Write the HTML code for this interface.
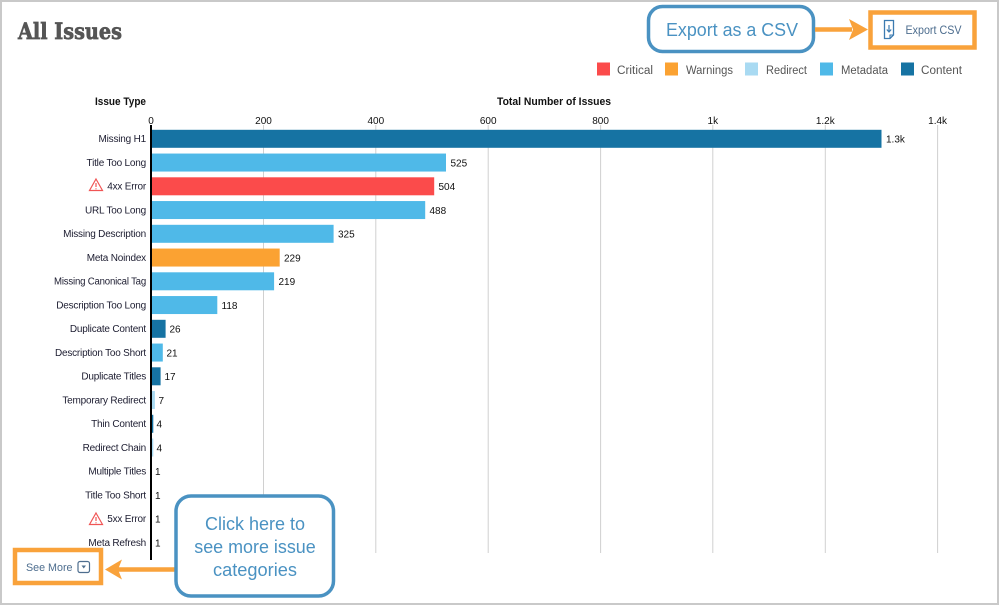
<!DOCTYPE html>
<html><head><meta charset="utf-8">
<style>
html,body{margin:0;padding:0;background:#fff;}
svg{display:block;}
text{font-family:"Liberation Sans",Arial,sans-serif;}
</style></head>
<body>
<svg width="1000" height="606" viewBox="0 0 1000 606" xmlns="http://www.w3.org/2000/svg">
<rect x="0" y="0" width="1000" height="606" fill="#fff"/>
<rect x="1" y="1" width="997" height="603" fill="none" stroke="#c9c9c9" stroke-width="2"/>

<!-- Title -->
<text x="18" y="39" font-size="22" fill="#555" stroke="#555" stroke-width="0.7" textLength="104" lengthAdjust="spacingAndGlyphs" style="font-family:'DejaVu Serif','Liberation Serif',serif;font-weight:bold">All Issues</text>

<!-- Export callout -->
<rect x="648.5" y="6.5" width="165" height="45" rx="14" fill="#fff" stroke="#4a92c2" stroke-width="3.5"/>
<text x="666" y="36" font-size="18" fill="#4a92c2" textLength="132" lengthAdjust="spacingAndGlyphs">Export as a CSV</text>
<line x1="815" y1="29.5" x2="852" y2="29.5" stroke="#f9a23b" stroke-width="4.5"/>
<polygon points="849,19 868,29.5 849,40 853,29.5" fill="#f9a23b"/>
<rect x="870.5" y="12.5" width="104" height="35" fill="#fff" stroke="#f9a23b" stroke-width="4.5"/>
<!-- doc icon -->
<path d="M884.5 20.5 H893.5 V35 L890 38.5 H884.5 Z" fill="none" stroke="#3c7bb0" stroke-width="1.3"/>
<path d="M893.5 35 H890 V38.5" fill="none" stroke="#3c7bb0" stroke-width="1.1"/>
<line x1="889" y1="25" x2="889" y2="31.5" stroke="#3c7bb0" stroke-width="1.2"/>
<polyline points="886.8,29.5 889,32 891.2,29.5" fill="none" stroke="#3c7bb0" stroke-width="1.2"/>
<text x="905.5" y="34" font-size="11.5" fill="#4d6d8e" textLength="56" lengthAdjust="spacingAndGlyphs">Export CSV</text>

<!-- Legend -->
<g font-size="11.5" fill="#555">
<rect x="597" y="62.5" width="13" height="13" fill="#fb4b4b"/>
<text x="617" y="74" textLength="36" lengthAdjust="spacingAndGlyphs">Critical</text>
<rect x="665" y="62.5" width="13" height="13" fill="#fba232"/>
<text x="686" y="74" textLength="47" lengthAdjust="spacingAndGlyphs">Warnings</text>
<rect x="745" y="62.5" width="13" height="13" fill="#a9daf2"/>
<text x="766" y="74" textLength="41" lengthAdjust="spacingAndGlyphs">Redirect</text>
<rect x="820" y="62.5" width="13" height="13" fill="#4fb9e8"/>
<text x="841" y="74" textLength="47" lengthAdjust="spacingAndGlyphs">Metadata</text>
<rect x="901" y="62.5" width="13" height="13" fill="#1673a3"/>
<text x="921" y="74" textLength="41" lengthAdjust="spacingAndGlyphs">Content</text>
</g>

<!-- Axis headers -->
<text x="95" y="105" font-size="11" font-weight="bold" fill="#111" textLength="51" lengthAdjust="spacingAndGlyphs">Issue Type</text>
<text x="497" y="105" font-size="11" font-weight="bold" fill="#111" textLength="114" lengthAdjust="spacingAndGlyphs">Total Number of Issues</text>

<!-- Gridlines -->
<g stroke="#d0d0d0" stroke-width="1">
<line x1="263.5" y1="125" x2="263.5" y2="553"/>
<line x1="375.8" y1="125" x2="375.8" y2="553"/>
<line x1="488.2" y1="125" x2="488.2" y2="553"/>
<line x1="600.6" y1="125" x2="600.6" y2="553"/>
<line x1="712.8" y1="125" x2="712.8" y2="553"/>
<line x1="825.3" y1="125" x2="825.3" y2="553"/>
<line x1="937.6" y1="125" x2="937.6" y2="553"/>
</g>
<g font-size="10" fill="#111" text-anchor="middle">
<text x="151" y="124">0</text>
<text x="263.5" y="124">200</text>
<text x="375.8" y="124">400</text>
<text x="488.2" y="124">600</text>
<text x="600.6" y="124">800</text>
<text x="712.8" y="124">1k</text>
<text x="825.3" y="124">1.2k</text>
<text x="937.6" y="124">1.4k</text>
</g>

<!-- Bars -->
<g>
<rect x="151" y="129.8" width="730.5" height="18" fill="#1673a3"/>
<rect x="151" y="153.55" width="295" height="18" fill="#4fb9e8"/>
<rect x="151" y="177.3" width="283.2" height="18" fill="#fb4b4b"/>
<rect x="151" y="201.05" width="274.2" height="18" fill="#4fb9e8"/>
<rect x="151" y="224.8" width="182.6" height="18" fill="#4fb9e8"/>
<rect x="151" y="248.55" width="128.7" height="18" fill="#fba232"/>
<rect x="151" y="272.3" width="123.1" height="18" fill="#4fb9e8"/>
<rect x="151" y="296.05" width="66.3" height="18" fill="#4fb9e8"/>
<rect x="151" y="319.8" width="14.6" height="18" fill="#1673a3"/>
<rect x="151" y="343.55" width="11.8" height="18" fill="#4fb9e8"/>
<rect x="151" y="367.3" width="9.6" height="18" fill="#1673a3"/>
<rect x="151" y="391.05" width="3.9" height="18" fill="#a9daf2"/>
<rect x="151" y="414.8" width="2.3" height="18" fill="#1673a3"/>
<rect x="151" y="438.55" width="2.3" height="18" fill="#a9daf2"/>
<rect x="151" y="462.3" width="0.6" height="18" fill="#4fb9e8"/>
<rect x="151" y="486.05" width="0.6" height="18" fill="#4fb9e8"/>
<rect x="151" y="509.8" width="0.6" height="18" fill="#fb4b4b"/>
<rect x="151" y="533.55" width="0.6" height="18" fill="#4fb9e8"/>
</g>

<!-- Axis line -->
<line x1="151" y1="125" x2="151" y2="560" stroke="#000" stroke-width="2"/>

<!-- Row labels -->
<g font-size="10" fill="#1c1c30" text-anchor="end" letter-spacing="-0.2">
<text x="146" y="142">Missing H1</text>
<text x="146" y="165.75">Title Too Long</text>
<text x="146" y="189.5">4xx Error</text>
<text x="146" y="213.25">URL Too Long</text>
<text x="146" y="237">Missing Description</text>
<text x="146" y="260.75">Meta Noindex</text>
<text x="146" y="284.5" textLength="92" lengthAdjust="spacingAndGlyphs">Missing Canonical Tag</text>
<text x="146" y="308.25">Description Too Long</text>
<text x="146" y="332">Duplicate Content</text>
<text x="146" y="355.75" textLength="91" lengthAdjust="spacingAndGlyphs">Description Too Short</text>
<text x="146" y="379.5">Duplicate Titles</text>
<text x="146" y="403.25">Temporary Redirect</text>
<text x="146" y="427">Thin Content</text>
<text x="146" y="450.75">Redirect Chain</text>
<text x="146" y="474.5">Multiple Titles</text>
<text x="146" y="498.25">Title Too Short</text>
<text x="146" y="522">5xx Error</text>
<text x="146" y="545.75">Meta Refresh</text>
</g>

<!-- Warning icons -->
<g fill="none" stroke="#f05555" stroke-width="1.2">
<path d="M96 179 L102.5 190.5 H89.5 Z"/>
<path d="M96 513 L102.5 524.5 H89.5 Z"/>
</g>
<g stroke="#f05555" stroke-width="1.2">
<line x1="96" y1="183" x2="96" y2="187"/>
<line x1="96" y1="188.3" x2="96" y2="189.3"/>
<line x1="96" y1="517" x2="96" y2="521"/>
<line x1="96" y1="522.3" x2="96" y2="523.3"/>
</g>

<!-- Value labels -->
<g font-size="10" fill="#111">
<text x="886" y="142.5">1.3k</text>
<text x="450.5" y="166.25">525</text>
<text x="438.5" y="190">504</text>
<text x="429.5" y="213.75">488</text>
<text x="338" y="237.5">325</text>
<text x="284" y="261.25">229</text>
<text x="278.5" y="285">219</text>
<text x="221.5" y="308.75">118</text>
<text x="169.5" y="332.5">26</text>
<text x="166.5" y="356.25">21</text>
<text x="164.5" y="380">17</text>
<text x="158.5" y="403.75">7</text>
<text x="156.5" y="427.5">4</text>
<text x="156.5" y="451.25">4</text>
<text x="155" y="475">1</text>
<text x="155" y="498.75">1</text>
<text x="155" y="522.5">1</text>
<text x="155" y="546.25">1</text>
</g>

<!-- See More -->
<rect x="15" y="550" width="86" height="33" fill="#fff" stroke="#f9a23b" stroke-width="4.5"/>
<text x="26" y="571" font-size="11" fill="#4d6d8e" textLength="46.5" lengthAdjust="spacingAndGlyphs">See More</text>
<rect x="78" y="561.5" width="11.5" height="11" rx="2" fill="none" stroke="#4d6d8e" stroke-width="1.2"/>
<polygon points="81.5,565.5 86,565.5 83.75,568.5" fill="#4d6d8e"/>

<!-- Left arrow -->
<line x1="118" y1="569.5" x2="176" y2="569.5" stroke="#f9a23b" stroke-width="4.5"/>
<polygon points="122,559.5 105,569.5 122,579.5 118,569.5" fill="#f9a23b"/>

<!-- Click callout -->
<rect x="176" y="496" width="157.5" height="100" rx="15" fill="#fff" stroke="#4a92c2" stroke-width="3.5"/>
<g font-size="18" fill="#4a92c2" text-anchor="middle">
<text x="255" y="530">Click here to</text>
<text x="255" y="553" textLength="121.5" lengthAdjust="spacingAndGlyphs">see more issue</text>
<text x="255" y="576" textLength="84" lengthAdjust="spacingAndGlyphs">categories</text>
</g>
</svg>
</body></html>
